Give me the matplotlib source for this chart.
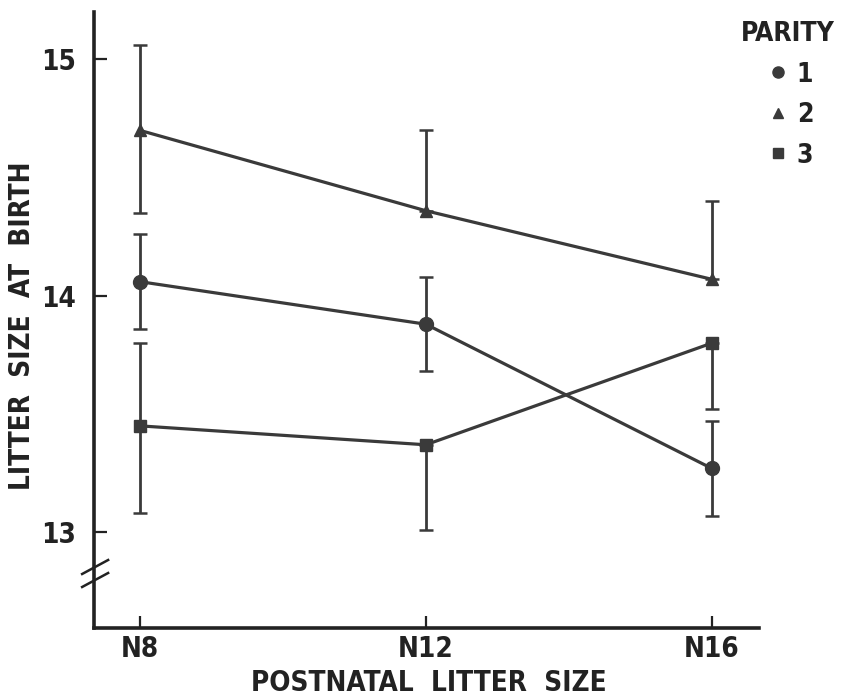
"""Litter size at birth by postnatal litter size and parity."""

import matplotlib
matplotlib.use("Agg")
import matplotlib.pyplot as plt
from matplotlib.lines import Line2D

plt.rcParams["font.family"] = ["DejaVu Sans"]
plt.rcParams["font.stretch"] = "condensed"
plt.rcParams["font.weight"] = "bold"
plt.rcParams["axes.labelweight"] = "bold"

# data
groups = ["N8", "N12", "N16"]
group_x = [8, 12, 16]

parity_labels = ["1", "2", "3"]
parity1_mean = [14.06, 13.88, 13.27]
parity1_err_lo = [0.20, 0.20, 0.20]
parity1_err_hi = [0.20, 0.20, 0.20]

parity2_mean = [14.70, 14.36, 14.07]
parity2_err_lo = [0.35, 0.0, 0.0]
parity2_err_hi = [0.36, 0.34, 0.33]

parity3_mean = [13.45, 13.37, 13.80]
parity3_err_lo = [0.37, 0.36, 0.28]
parity3_err_hi = [0.35, 0.0, 0.0]

y_ticks = [13, 14, 15]

INK = "#3a3a3a"

fig = plt.figure(figsize=(8.48, 6.99), dpi=100)
ax = fig.add_axes([0.111, 0.1016, 0.784, 0.881])

series = [
    (parity1_mean, parity1_err_lo, parity1_err_hi, "o", 10),
    (parity2_mean, parity2_err_lo, parity2_err_hi, "^", 8),
    (parity3_mean, parity3_err_lo, parity3_err_hi, "s", 8),
]
for mean, lo, hi, marker, ms in series:
    ax.errorbar(group_x, mean, yerr=[lo, hi], color=INK, marker=marker,
                markersize=ms, linewidth=2.3, elinewidth=2.0, capsize=5,
                capthick=1.8, clip_on=False)

ax.set_xlim(7.36, 16.66)
ax.set_ylim(12.595, 15.20)
ax.set_xticks(group_x)
ax.set_xticklabels(groups)
ax.set_yticks(y_ticks)

for side in ("top", "right"):
    ax.spines[side].set_visible(False)
for side in ("left", "bottom"):
    ax.spines[side].set_linewidth(2.6)
    ax.spines[side].set_color("#222222")

ax.tick_params(axis="both", direction="in", length=9, width=1.6,
               colors="#222222", labelsize=20)
ax.tick_params(axis="y", pad=13)
ax.tick_params(axis="x", pad=5)

xl = ax.set_xlabel("POSTNATAL  LITTER  SIZE", fontsize=20, color="#222222")
yl = ax.set_ylabel("LITTER  SIZE  AT  BIRTH", fontsize=20, color="#222222")
xl.set_verticalalignment("center")
yl.set_verticalalignment("center")
ax.xaxis.set_label_coords(0.504, -0.090)
ax.yaxis.set_label_coords(-0.108, 0.49)

# axis break marks on the y axis
for dy in (0.0, 13.0):
    y0 = (628 - 565 - dy) / 616.0
    ax.plot([-12 / 665.0, 14 / 665.0], [y0 - 9 / 616.0, y0 + 5 / 616.0],
            transform=ax.transAxes, color="#222222", linewidth=1.8,
            clip_on=False)

handles = [Line2D([], [], color=INK, marker=m, linestyle="none", markersize=s)
           for m, s in (("o", 8), ("^", 7), ("s", 7))]
leg = fig.legend(handles, parity_labels, title="PARITY", loc="upper right",
                 bbox_to_anchor=(0.997, 0.985), frameon=False, fontsize=19,
                 title_fontsize=19, labelspacing=0.55, handletextpad=0.1,
                 handlelength=1.2, borderaxespad=0)
leg.get_title().set_fontweight("bold")
for t in leg.get_texts():
    t.set_color("#222222")
leg.get_title().set_color("#222222")

fig.savefig("out.png", dpi=100)
